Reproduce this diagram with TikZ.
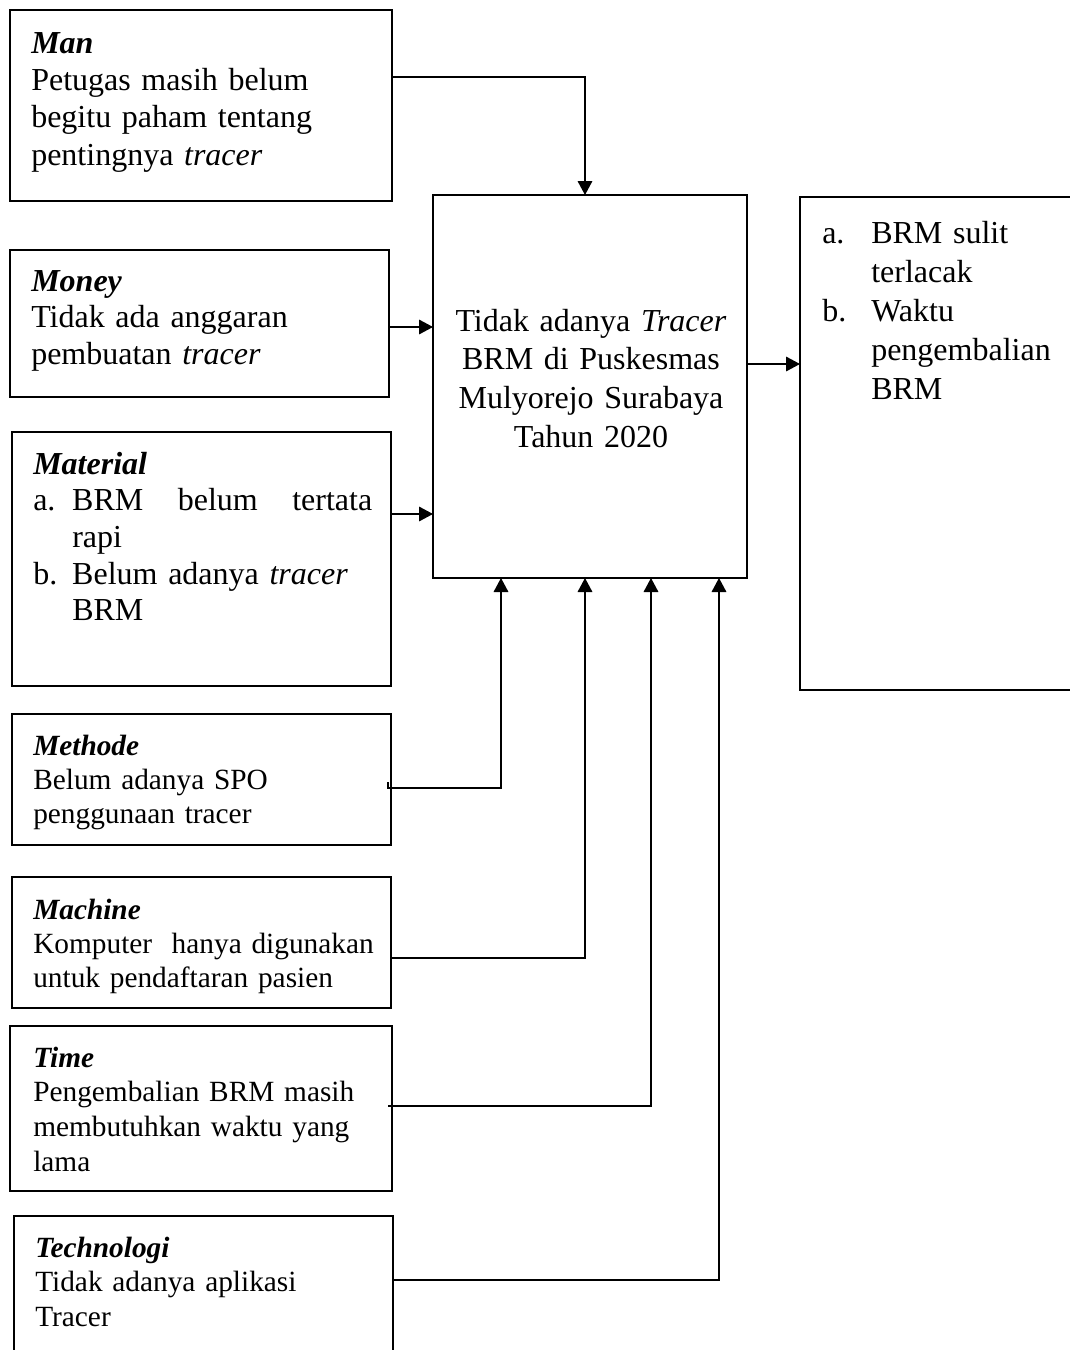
\documentclass[tikz,border=0pt]{standalone}
\usepackage{fontspec}
\setmainfont{Liberation Serif}
\usetikzlibrary{arrows.meta,calc}
\tikzset{
  factor/.style   ={draw=black,line width=0.9pt,anchor=north west,inner sep=0pt,outer sep=0pt},
  core/.style     ={factor,line width=1.8pt},
  result/.style   ={factor,line width=1.5pt},
  ftext/.style    ={anchor=base west,inner sep=0pt,align=left,text width=260pt},
  bigtxt/.style   ={font=\fontsize{24}{27.5}\selectfont},
  smalltxt/.style ={font=\fontsize{22}{25.5}\selectfont},
  flow/.style     ={-{Triangle[length=10.5pt,width=11pt]},line width=0.9pt},
}
\newcommand{\fhead}[1]{\textbf{\textit{#1}}}

\begin{document}
\begin{tikzpicture}[x=0.75pt,y=-0.75pt]
\useasboundingbox (0,0) rectangle (1070,1350);
\clip (0,0) rectangle (1070,1350);

% boxes
\node[factor,minimum width=382*0.75pt,minimum height=191*0.75pt] (man) at (10,10) {};
\node[factor,minimum width=379*0.75pt,minimum height=147*0.75pt] (money) at (10,250) {};
\node[factor,minimum width=379*0.75pt,minimum height=254*0.75pt] (material) at (12,432) {};
\node[factor,minimum width=379*0.75pt,minimum height=131*0.75pt] (methode) at (12,714) {};
\node[factor,minimum width=379*0.75pt,minimum height=131*0.75pt] (machine) at (12,877) {};
\node[factor,minimum width=382*0.75pt,minimum height=165*0.75pt] (time) at (10,1026) {};
\node[factor,minimum width=379*0.75pt,minimum height=170*0.75pt] (techno) at (14,1216) {};
\node[core,minimum width=314*0.75pt,minimum height=383*0.75pt] (centre) at (433,195) {};
\node[result,minimum width=300*0.75pt,minimum height=493*0.75pt] (effect) at (800,197) {};

% texts
\node[ftext,font=\fontsize{24}{28}\selectfont] (manT) at (31,53)
  {\fhead{Man}\\Petugas masih belum\\begitu paham tentang\\pentingnya \textit{tracer}};
\node[ftext,bigtxt] (moneyT) at (31,291)
  {\fhead{Money}\\Tidak ada anggaran\\pembuatan \textit{tracer}};
\node[ftext,bigtxt,text width=339*0.75pt] (materialT) at (33,474)
  {\fhead{Material}\\
   \makebox[29.25pt][l]{a.}BRM\hfill belum\hfill tertata\\
   \hspace*{29.25pt}rapi\\
   \makebox[29.25pt][l]{b.}Belum adanya \textit{tracer}\\
   \hspace*{29.25pt}BRM};
\node[ftext,smalltxt] (methodeT) at (33,755)
  {\fhead{Methode}\\Belum adanya SPO\\penggunaan tracer};
\node[ftext,smalltxt] (machineT) at (33,919)
  {\fhead{Machine}\\Komputer\ \ hanya digunakan\\untuk pendaftaran pasien};
\node[ftext,font=\fontsize{22}{26}\selectfont] (timeT) at (33,1067)
  {\fhead{Time}\\Pengembalian BRM masih\\membutuhkan waktu yang\\lama};
\node[ftext,font=\fontsize{22}{26}\selectfont] (technoT) at (35,1257)
  {\fhead{Technologi}\\Tidak adanya aplikasi\\Tracer};
\node[anchor=base,inner sep=0pt,align=center,text width=225pt,
      font=\fontsize{24}{29}\selectfont] (centreT) at (591,331)
  {Tidak adanya \textit{Tracer}\\BRM di Puskesmas\\Mulyorejo Surabaya\\Tahun 2020};
\node[ftext,font=\fontsize{24}{29.25}\selectfont] (effectT) at (822,243)
  {\makebox[36.75pt][l]{a.}BRM sulit\\
   \hspace*{36.75pt}terlacak\\
   \makebox[36.75pt][l]{b.}Waktu\\
   \hspace*{36.75pt}pengembalian\\
   \hspace*{36.75pt}BRM};

% connectors
\draw[flow] ($(man.north east)+(0,67)$) -| ($(centre.north)+(-5,0)$);
\draw[flow] ($(money.north east)+(0,77)$) -- ($(centre.north west)+(0,132)$);
\draw[flow] ($(material.north east)+(0,82)$) -- ($(centre.north west)+(0,319)$);
\draw[flow] ($(centre.north east)+(0,169)$) -- ($(effect.north west)+(0,167)$);
\draw[flow] ($(methode.north east)+(-3,68)$) -- ++(0,6) -| ($(centre.south west)+(68,0)$);
\draw[flow] ($(machine.north east)+(0,73)$) -- ++(0,8) -| ($(centre.south west)+(152,0)$);
\draw[flow] ($(time.north east)+(-4,80)$) -| ($(centre.south west)+(218,0)$);
\draw[flow] ($(techno.north east)+(0,64)$) -| ($(centre.south west)+(286,0)$);
\end{tikzpicture}
\end{document}
